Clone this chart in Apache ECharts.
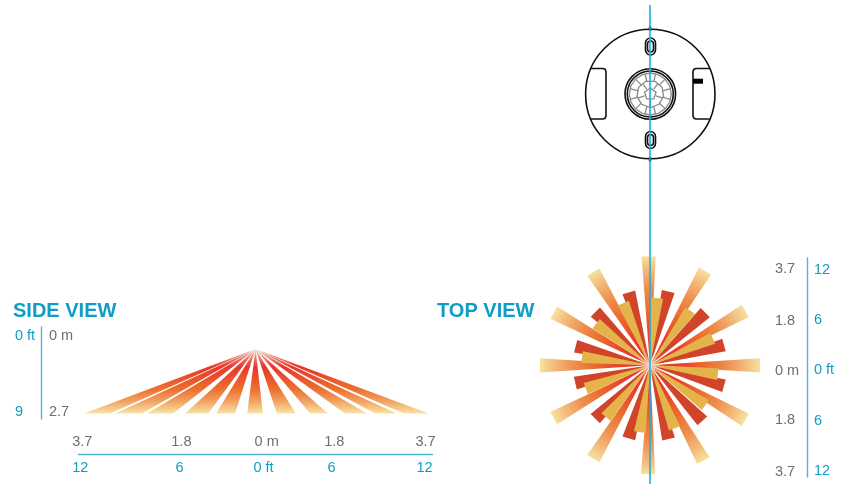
<!DOCTYPE html>
<html><head><meta charset="utf-8">
<style>html,body{margin:0;padding:0;background:#fff}#c{width:846px;height:484px}</style>
<script src="https://cdn.jsdelivr.net/npm/echarts@6/dist/echarts.min.js"></script>
</head><body><div id="c"></div>
<script>
// ---- data ----
const titles = ['SIDE VIEW', 'TOP VIEW'];
// side view: beam edges on the floor, metres from the sensor axis
const sideBeamLeft  = [-3.70,-3.03,-2.34,-1.52,-0.85,-0.18,0.46,1.18,1.93,2.58,3.20];
const sideBeamRight = [-3.14,-2.45,-1.78,-1.02,-0.44,0.16,0.87,1.56,2.41,3.05,3.74];
const mountHeightM = 2.7;
// top view: bearing in degrees clockwise from north, reach in metres
const longBearings = [359.3,30,60,90,120,151,181,211,241,270,299,329];
const longReach    = [3.67,3.67,3.67,3.67,3.67,3.67,3.67,3.67,3.67,3.67,3.67,3.67];
const redBearings  = [13.7,46,74.4,105.6,137,166,196,225.5,256.5,284.6,314.6,344];
const redReach     = [2.56,2.56,2.56,2.56,2.56,2.56,2.56,2.56,2.56,2.56,2.56,2.56];
const goldBearings = [6,36,66.5,97.5,126,159,188.5,220,250,277,308,337];
const goldReach    = [2.28,2.28,2.28,2.28,2.28,2.28,2.28,2.28,2.28,2.28,2.28,2.28];
// tick labels
const sideXmLabels = ['3.7','1.8','0 m','1.8','3.7'];
const sideXmSpots  = [-3.74,-1.6,0.24,1.7,3.67];
const sideXftLabels = ['12','6','0 ft','6','12'];
const sideXftSpots  = [-12.4,-5.38,0.57,5.38,11.96];
const sideYmTicks = [0,2.7], sideYftTicks = [0,9];
const topYmTicks = [-3.7,-1.8,0,1.8,3.7], topYftTicks = [-12,-6,0,6,12];

// ---- style ----
const BLUE='#0f9dc6', LINE='#4db6d3', GRAY='#6d6e71', SKY='#1fb0dc', INK='#111';
const FONT='"Liberation Sans",Arial,sans-serif';
const mkGrad=(stops)=>stops.map(s=>({offset:s[0],color:s[1]}));

const chart = echarts.init(document.getElementById('c'),null,{renderer:'canvas'});

function rad(b){return b*Math.PI/180;}
function wedgeRender(halfDeg, fillFor){
  return function(params, api){
    const b=api.value(0), r=api.value(1);
    const h=r/Math.cos(rad(halfDeg));
    const p=a=>api.coord([h*Math.sin(rad(a)),h*Math.cos(rad(a))]);
    const c=api.coord([0,0]);
    const pts=[c,p(b-halfDeg),p(b+halfDeg)];
    return {type:'polygon',shape:{points:pts},style:{fill:fillFor(c,api.coord([r,0])[0]-c[0])}};
  };
}
const longFill=(c,R)=>new echarts.graphic.RadialGradient(c[0],c[1],R,mkGrad([
  [0,'#f6c9b4'],[0.06,'#ee8f74'],[0.13,'#e8352c'],[0.28,'#ea3f2c'],[0.5,'#ea6a2c'],[0.7,'#ee8f4e'],[0.87,'#f3bb7c'],[1,'#f6e3a0']]),true);
const solidFill=(col)=>(c,R)=>new echarts.graphic.RadialGradient(c[0],c[1],R,mkGrad([
  [0,'#f6c9b4'],[0.07,'#eda383'],[0.14,col],[1,col]]),true);

function sideRender(params, api){
  const a=api.coord([0,0]), l=api.coord([api.value(0),api.value(2)]), r=api.coord([api.value(1),api.value(2)]);
  return {type:'polygon',shape:{points:[a,l,r]},style:{
    fill:new echarts.graphic.LinearGradient(0,a[1],0,l[1],mkGrad([
      [0,'#f8d6cf'],[0.1,'#ef8f80'],[0.28,'#e8352c'],[0.62,'#ec6f2e'],[0.82,'#f1a566'],[1,'#f9e4a6']]),true)}};
}

// ---- device drawing (sensor outline, not data) ----
const cx=650.3, cy=94;
const stroke={stroke:INK,lineWidth:1.6,fill:'none'};
const tabOutline=(edge,inner)=>{const s=inner>edge?1:-1;return [[edge,68.5],[inner-3*s,68.5],[inner-1*s,69.2],[inner,71.5],[inner,116],[inner-1*s,118.3],[inner-3*s,119],[edge,119]];};
const dev=[
  {type:'circle',shape:{cx,cy,r:64.7},style:stroke},
  {type:'circle',shape:{cx,cy,r:25.3},style:stroke},
  {type:'circle',shape:{cx,cy,r:23},style:stroke},
  {type:'polyline',shape:{points:tabOutline(590.8,606)},style:stroke},
  {type:'polyline',shape:{points:tabOutline(709.8,693)},style:stroke},
  {type:'rect',shape:{x:693,y:78.7,width:10,height:5},style:{fill:'#000'}},
  {type:'rect',shape:{x:645.5,y:38,width:10,height:17,r:5},style:stroke},
  {type:'rect',shape:{x:647.5,y:41,width:6,height:11,r:3},style:stroke},
  {type:'rect',shape:{x:645.5,y:131.5,width:10,height:17,r:5},style:stroke},
  {type:'rect',shape:{x:647.5,y:134.5,width:6,height:11,r:3},style:stroke},
  {type:'line',shape:{x1:650,y1:26.5,x2:650,y2:31},style:{stroke:INK,lineWidth:2.4}},
  {type:'line',shape:{x1:650,y1:157,x2:650,y2:161.5},style:{stroke:INK,lineWidth:2.4}}
];
const meshStyle={stroke:'#8a8a8c',lineWidth:1.3,fill:'none'};
const ring=(r,off,n)=>{const o=[];for(let i=0;i<n;i++){const a=rad(off+i*360/n);o.push([cx+r*Math.sin(a),cy-r*Math.cos(a)]);}return o;};
[[21,0,16],[13.5,20,9],[6,0,5]].forEach(s=>dev.push({type:'polygon',shape:{points:ring(s[0],s[1],s[2])},style:meshStyle}));
const spoke=(r0,r1,a)=>({type:'line',shape:{x1:cx+r0*Math.sin(rad(a)),y1:cy-r0*Math.cos(rad(a)),x2:cx+r1*Math.sin(rad(a)),y2:cy-r1*Math.cos(rad(a))},style:meshStyle});
for(let i=0;i<12;i++){dev.push(spoke(12.5,21,15+i*30));}
for(let i=0;i<5;i++){dev.push(spoke(6,12.5,36+i*72));}
dev.push({type:'line',shape:{x1:650,y1:5,x2:650,y2:484},style:{stroke:SKY,lineWidth:1.6},z:100});

const lbl=(o)=>Object.assign({fontFamily:FONT,fontSize:14.5,show:true},o);
const lookup=(spots,labels)=>(v)=>{let k=0;spots.forEach((s,i)=>{if(Math.abs(s-v)<Math.abs(spots[k]-v))k=i;});return labels[k];};
const absFmt=(zero)=>(v)=>v===0?zero:String(Math.abs(v));
const noTick={show:false};
const hiddenAxis=(o)=>Object.assign({type:'value',show:false,splitLine:noTick,axisPointer:noTick},o);

chart.setOption({
  animation:false,
  backgroundColor:'#fff',
  title:[
    {text:titles[0],left:13,top:301,padding:0,textStyle:{fontFamily:FONT,fontSize:20,fontWeight:'bold',color:BLUE}},
    {text:titles[1],left:437,top:301,padding:0,textStyle:{fontFamily:FONT,fontSize:20,fontWeight:'bold',color:BLUE}}
  ],
  graphic:dev,
  grid:[
    {left:78.5,width:354,top:349,height:64.5},      // side view beams + bottom rulers
    {left:530,width:240,top:246.7,height:240},      // top view beams
    {left:41,width:1,top:327,height:92},            // side view vertical ruler
    {left:807,width:1,top:258,height:219}           // top view vertical ruler
  ],
  xAxis:[
    {gridIndex:0,type:'value',min:-3.82,max:3.82,position:'bottom',offset:41,
     axisLine:{show:false},axisTick:noTick,splitLine:noTick,
     axisLabel:lbl({color:GRAY,inside:true,margin:5,customValues:sideXmSpots,formatter:lookup(sideXmSpots,sideXmLabels),hideOverlap:false,showMinLabel:true,showMaxLabel:true})},
    {gridIndex:0,type:'value',min:-12.53,max:12.53,position:'bottom',offset:41,
     axisLine:{show:true,onZero:false,lineStyle:{color:LINE,width:1.4}},axisTick:noTick,splitLine:noTick,
     axisLabel:lbl({color:BLUE,margin:6,customValues:sideXftSpots,formatter:lookup(sideXftSpots,sideXftLabels),hideOverlap:false,showMinLabel:true,showMaxLabel:true})},
    hiddenAxis({gridIndex:1,min:-4,max:4}),
    hiddenAxis({gridIndex:2,min:0,max:1}),
    hiddenAxis({gridIndex:3,min:0,max:1})
  ],
  yAxis:[
    hiddenAxis({gridIndex:0,min:0,max:mountHeightM,inverse:true}),
    hiddenAxis({gridIndex:1,min:-4,max:4}),
    {gridIndex:2,type:'value',min:-0.31,max:2.96,inverse:true,position:'right',offset:-1,
     axisLine:{show:false},axisTick:noTick,splitLine:noTick,
     axisLabel:lbl({color:GRAY,align:'left',margin:8,customValues:sideYmTicks,formatter:absFmt('0 m'),hideOverlap:false,showMinLabel:true,showMaxLabel:true})},
    {gridIndex:2,type:'value',min:-1.05,max:9.85,inverse:true,position:'left',
     axisLine:{show:true,onZero:false,lineStyle:{color:LINE,width:1.4}},axisTick:noTick,splitLine:noTick,
     axisLabel:lbl({color:BLUE,align:'left',margin:26,customValues:sideYftTicks,formatter:absFmt('0 ft'),hideOverlap:false,showMinLabel:true,showMaxLabel:true})},
    {gridIndex:3,type:'value',min:-3.88,max:4.10,position:'left',
     axisLine:{show:true,onZero:false,lineStyle:{color:LINE,width:1.4}},axisTick:noTick,splitLine:noTick,
     axisLabel:lbl({color:GRAY,align:'left',margin:32,customValues:topYmTicks,formatter:absFmt('0 m'),hideOverlap:false,showMinLabel:true,showMaxLabel:true})},
    {gridIndex:3,type:'value',min:-12.74,max:13.45,position:'right',offset:-1,
     axisLine:{show:false},axisTick:noTick,splitLine:noTick,
     axisLabel:lbl({color:BLUE,align:'left',margin:7,customValues:topYftTicks,formatter:absFmt('0 ft'),hideOverlap:false,showMinLabel:true,showMaxLabel:true})}
  ],
  series:[
    {type:'custom',name:'side beams',xAxisIndex:0,yAxisIndex:0,clip:false,silent:true,renderItem:sideRender,
     encode:{x:[0,1],y:2},data:sideBeamLeft.map((l,i)=>[l,sideBeamRight[i],mountHeightM])},
    {type:'custom',name:'long beams',xAxisIndex:2,yAxisIndex:1,clip:false,silent:true,z:3,renderItem:wedgeRender(3.7,longFill),
     data:longBearings.map((b,i)=>[b,longReach[i]])},
    {type:'custom',name:'red beams',xAxisIndex:2,yAxisIndex:1,clip:false,silent:true,z:4,renderItem:wedgeRender(4.9,solidFill('#d1442a')),
     data:redBearings.map((b,i)=>[b,redReach[i]])},
    {type:'custom',name:'gold beams',xAxisIndex:2,yAxisIndex:1,clip:false,silent:true,z:5,renderItem:wedgeRender(5,solidFill('#e4b34a')),
     data:goldBearings.map((b,i)=>[b,goldReach[i]])}
  ]
});
</script></body></html>
